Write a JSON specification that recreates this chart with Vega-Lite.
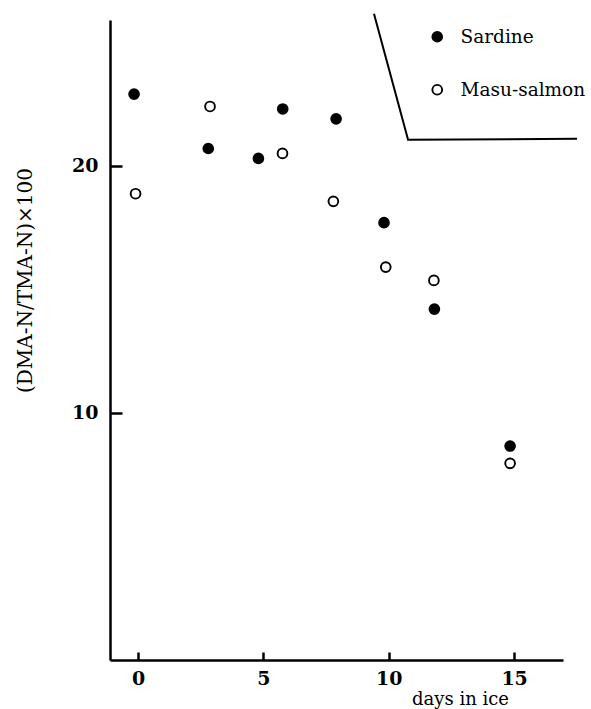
{
  "$schema": "https://vega.github.io/schema/vega-lite/v6.json",
  "width": 453,
  "height": 640,
  "autosize": {"type": "none"},
  "padding": {"left": 110, "top": 20, "right": 28, "bottom": 49},
  "background": "white",
  "config": {
    "view": {"stroke": null},
    "axis": {
      "grid": false,
      "domainColor": "black",
      "domainWidth": 2.5,
      "tickColor": "black",
      "tickWidth": 2.5,
      "labelFont": "DejaVu Serif",
      "labelFontWeight": "bold",
      "labelFontSize": 19,
      "labelColor": "black",
      "titleFont": "DejaVu Serif",
      "titleFontWeight": "normal",
      "titleColor": "black",
      "titleFontSize": 20
    },
    "legend": {
      "labelFont": "DejaVu Serif",
      "labelFontSize": 18.5,
      "labelColor": "black"
    }
  },
  "datasets": {
    "points": [
      {"day": -0.16, "ratio": 22.9, "fish": "Sardine"},
      {"day": 2.8, "ratio": 20.7, "fish": "Sardine"},
      {"day": 4.8, "ratio": 20.3, "fish": "Sardine"},
      {"day": 5.77, "ratio": 22.3, "fish": "Sardine"},
      {"day": 7.9, "ratio": 21.9, "fish": "Sardine"},
      {"day": 9.81, "ratio": 17.7, "fish": "Sardine"},
      {"day": 11.82, "ratio": 14.2, "fish": "Sardine"},
      {"day": 14.84, "ratio": 8.66, "fish": "Sardine"},
      {"day": -0.1, "ratio": 18.87, "fish": "Masu-salmon"},
      {"day": 2.87, "ratio": 22.4, "fish": "Masu-salmon"},
      {"day": 5.76, "ratio": 20.5, "fish": "Masu-salmon"},
      {"day": 7.79, "ratio": 18.56, "fish": "Masu-salmon"},
      {"day": 9.88, "ratio": 15.9, "fish": "Masu-salmon"},
      {"day": 11.8, "ratio": 15.36, "fish": "Masu-salmon"},
      {"day": 14.84, "ratio": 7.96, "fish": "Masu-salmon"}
    ],
    "frame": [
      {"day": 9.41, "ratio": 26.15, "order": 1},
      {"day": 10.77, "ratio": 21.05, "order": 2},
      {"day": 17.51, "ratio": 21.09, "order": 3}
    ]
  },
  "layer": [
    {
      "data": {"name": "frame"},
      "mark": {"type": "line", "color": "black", "strokeWidth": 2, "clip": false},
      "encoding": {
        "x": {"field": "day", "type": "quantitative"},
        "y": {"field": "ratio", "type": "quantitative"},
        "order": {"field": "order", "type": "quantitative"}
      }
    },
    {
      "data": {"name": "points"},
      "mark": {"type": "point", "shape": "circle", "filled": true, "stroke": "black", "strokeWidth": 1.9, "size": 95, "opacity": 1},
      "encoding": {
        "x": {
          "field": "day",
          "type": "quantitative",
          "scale": {"domain": [-1.12, 16.95], "nice": false, "zero": false},
          "axis": {
            "values": [0, 5, 10, 15],
            "tickSize": -8,
            "labelPadding": 17,
            "title": "days in ice",
            "titleFontSize": 18,
            "titleX": 350,
            "titleY": 44,
            "titleBaseline": "alphabetic",
            "titleAlign": "center"
          }
        },
        "y": {
          "field": "ratio",
          "type": "quantitative",
          "scale": {"domain": [0, 25.9], "nice": false},
          "axis": {
            "values": [10, 20],
            "tickSize": -12,
            "labelPadding": 24,
            "title": "(DMA-N/TMA-N)×100",
            "titleX": -85,
            "titleY": 260,
            "titleAngle": -90,
            "titleAlign": "center",
            "titleBaseline": "middle"
          }
        },
        "fill": {
          "field": "fish",
          "type": "nominal",
          "scale": {"domain": ["Sardine", "Masu-salmon"], "range": ["black", "white"]},
          "legend": {
            "title": null,
            "orient": "none",
            "legendX": 318,
            "legendY": 7.5,
            "padding": 0,
            "symbolType": "circle",
            "symbolSize": 95,
            "symbolStrokeColor": "black",
            "symbolStrokeWidth": 1.9,
            "labelFont": "DejaVu Serif",
            "labelFontSize": 18.5,
            "labelColor": "black",
            "labelOffset": 14,
            "labelLimit": 200,
            "rowPadding": 34
          }
        }
      }
    }
  ]
}
